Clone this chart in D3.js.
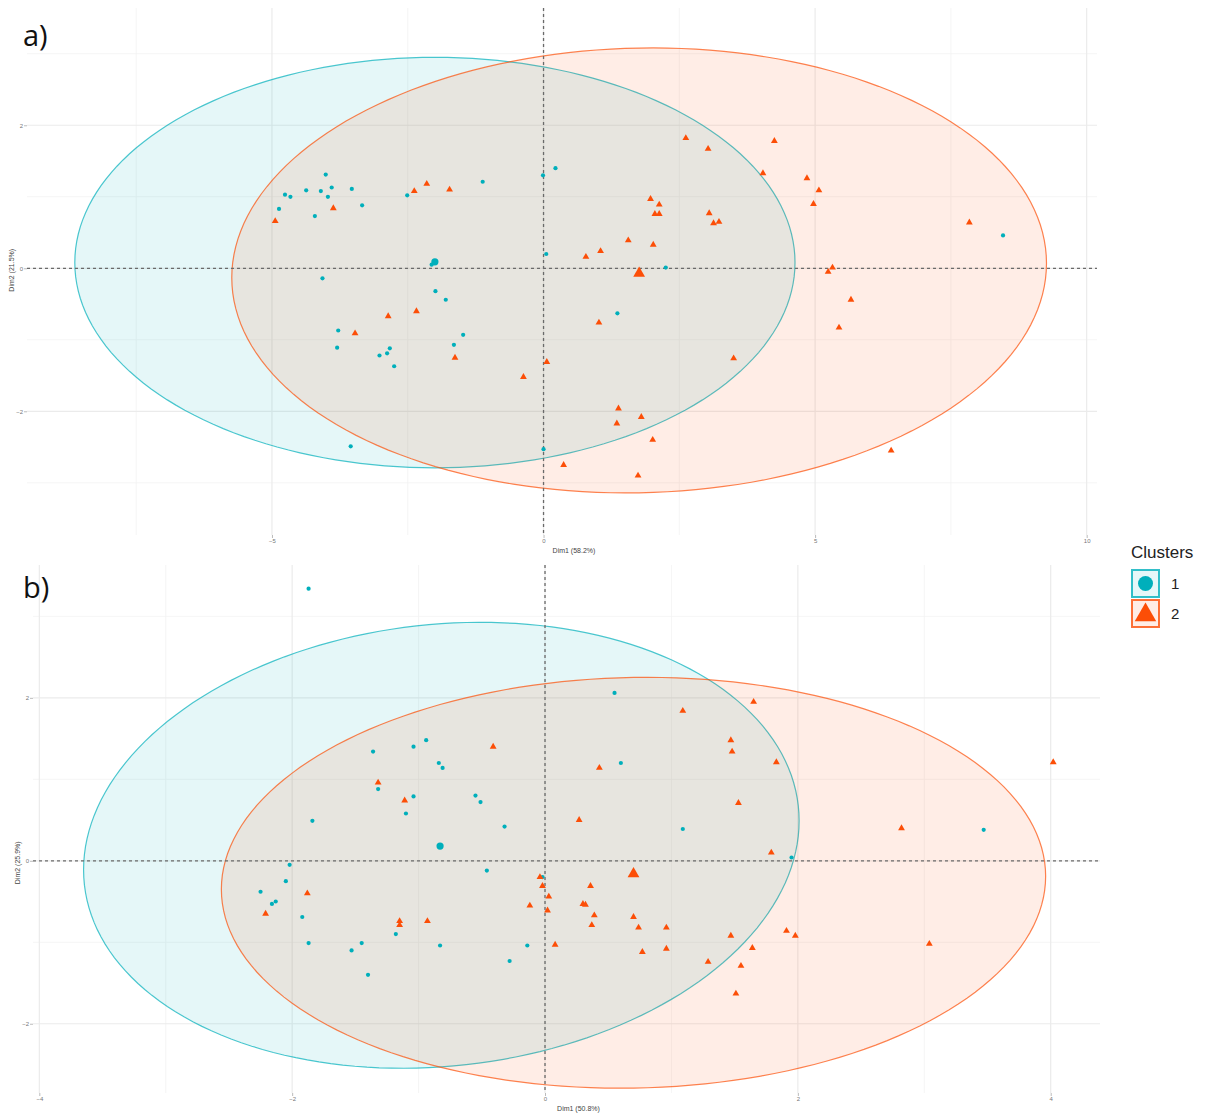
<!DOCTYPE html>
<html>
<head>
<meta charset="utf-8">
<script src="https://cdn.jsdelivr.net/npm/d3@7"></script>
<style>
body{margin:0;background:#fff}
svg{display:block}
</style>
</head>
<body>
<svg id="chart" width="1208" height="1115"></svg>
<script>
const clusterNames = ["1", "2"];
const clusterColors = ["#00AFBB", "#FC4E07"];

// ---- panel a ----
const aXTicks = [-5, 0, 5, 10];
const aYTicks = [-2, 0, 2];
const aXMinor = [-7.5, -2.5, 2.5, 7.5];
const aYMinor = [-3, -1, 1, 3];
const aXTitle = "Dim1 (58.2%)";
const aYTitle = "Dim2 (21.5%)";
const aCluster1 = [
  [-4.01,1.31],[-4.76,1.03],[-4.66,1.00],[-4.87,0.83],[-4.37,1.09],[-4.10,1.08],
  [-3.90,1.13],[-3.97,1.00],[-3.53,1.11],[-4.21,0.73],[-3.34,0.88],[-2.51,1.02],
  [-1.12,1.21],[-0.01,1.30],[0.22,1.40],[0.05,0.20],[-4.07,-0.14],[-1.99,-0.32],
  [-1.80,-0.44],[-3.78,-0.87],[-3.80,-1.11],[-1.48,-0.93],[-1.65,-1.07],[-2.83,-1.12],
  [-2.88,-1.19],[-3.02,-1.22],[-2.75,-1.37],[-2.06,0.05],[2.25,0.01],[1.36,-0.63],
  [0.00,-2.53],[-3.55,-2.49],[8.46,0.46]
];
const aCluster2 = [
  [-4.94,0.66],[-3.87,0.84],[-2.38,1.08],[-2.15,1.18],[-1.73,1.10],[-2.86,-0.67],
  [-2.34,-0.60],[-3.47,-0.91],[-1.63,-1.25],[0.06,-1.31],[-0.37,-1.52],[2.62,1.82],
  [3.03,1.67],[4.25,1.78],[4.04,1.33],[4.85,1.26],[5.07,1.09],[4.97,0.90],
  [1.97,0.97],[2.13,0.89],[2.05,0.76],[2.13,0.76],[3.05,0.77],[3.13,0.63],
  [3.23,0.65],[1.56,0.39],[2.02,0.33],[1.05,0.24],[0.78,0.16],[5.32,0.01],
  [5.24,-0.05],[5.66,-0.44],[5.44,-0.83],[1.02,-0.76],[3.50,-1.26],[1.38,-1.96],
  [1.80,-2.08],[1.35,-2.17],[2.01,-2.40],[0.37,-2.75],[1.74,-2.90],[7.84,0.64],
  [6.40,-2.55]
];
const aCentres = [[-2.00,0.09],[1.76,-0.07]];
// ellipse: [cx, cy, a, b, tilt]
const aEllipses = [[-2.00,0.08,6.63,2.87,0.0],[1.76,-0.03,7.50,3.11,0.10]];

// ---- panel b ----
const bXTicks = [-4, -2, 0, 2, 4];
const bYTicks = [-2, 0, 2];
const bXMinor = [-3, -1, 1, 3];
const bYMinor = [-1, 1, 3];
const bXTitle = "Dim1 (50.8%)";
const bYTitle = "Dim2 (25.9%)";
const bCluster1 = [
  [-1.87,3.34],[0.55,2.06],[0.60,1.20],[-1.36,1.34],[-1.04,1.40],[-0.94,1.48],
  [-0.84,1.20],[-0.81,1.14],[-1.32,0.88],[-0.55,0.80],[-0.51,0.72],[-1.04,0.79],
  [-1.10,0.58],[-1.84,0.49],[-0.32,0.42],[1.09,0.39],[3.47,0.38],[-2.02,-0.05],
  [-0.46,-0.12],[-2.05,-0.25],[-2.25,-0.38],[-2.13,-0.50],[-2.16,-0.53],[-1.92,-0.69],
  [-1.18,-0.90],[-1.87,-1.01],[-1.45,-1.01],[-0.83,-1.04],[-1.53,-1.10],[-0.14,-1.04],
  [-0.28,-1.23],[-1.40,-1.40],[-0.02,-0.20],[1.95,0.04]
];
const bCluster2 = [
  [1.65,1.95],[1.09,1.84],[1.47,1.48],[1.48,1.34],[-0.41,1.40],[0.43,1.14],
  [1.83,1.21],[4.02,1.21],[-1.32,0.96],[-1.11,0.74],[1.53,0.71],[0.27,0.50],
  [2.82,0.40],[1.79,0.10],[-0.04,-0.20],[-0.02,-0.31],[0.03,-0.44],[0.36,-0.31],
  [-2.21,-0.65],[-1.88,-0.40],[-0.12,-0.55],[0.02,-0.61],[0.30,-0.53],[0.32,-0.54],
  [0.39,-0.67],[-1.15,-0.74],[-1.15,-0.79],[-0.93,-0.74],[0.37,-0.79],[0.70,-0.69],
  [0.74,-0.82],[0.96,-0.82],[0.08,-1.03],[0.77,-1.12],[0.96,-1.08],[1.29,-1.24],
  [1.47,-0.92],[1.64,-1.07],[1.55,-1.29],[1.91,-0.86],[1.98,-0.92],[3.04,-1.02],
  [1.51,-1.63]
];
const bCentres = [[-0.83,0.18],[0.70,-0.16]];
const bEllipses = [[-0.82,0.19,2.83,2.72,0.30],[0.70,-0.27,3.26,2.52,0.08]];

const svg = d3.select("#chart");
const font = "'Liberation Sans', Arial, sans-serif";

function drawPanel(p) {
  const x = d3.scaleLinear().domain(p.xDomain).range([p.left, p.right]);
  const y = d3.scaleLinear().domain(p.yDomain).range([p.bottom, p.top]);
  const g = svg.append("g");

  // grid
  g.selectAll(".vminor").data(p.xMinor).enter().append("line")
    .attr("x1", d => x(d)).attr("x2", d => x(d))
    .attr("y1", p.top).attr("y2", p.bottom)
    .attr("stroke", "#f2f2f2").attr("stroke-width", 0.8);
  g.selectAll(".hminor").data(p.yMinor).enter().append("line")
    .attr("y1", d => y(d)).attr("y2", d => y(d))
    .attr("x1", p.left).attr("x2", p.right)
    .attr("stroke", "#f2f2f2").attr("stroke-width", 0.8);
  g.selectAll(".vmajor").data(p.xTicks).enter().append("line")
    .attr("x1", d => x(d)).attr("x2", d => x(d))
    .attr("y1", p.top).attr("y2", p.bottom)
    .attr("stroke", "#ebebeb").attr("stroke-width", 1.2);
  g.selectAll(".hmajor").data(p.yTicks).enter().append("line")
    .attr("y1", d => y(d)).attr("y2", d => y(d))
    .attr("x1", p.left).attr("x2", p.right)
    .attr("stroke", "#ebebeb").attr("stroke-width", 1.2);

  // ellipses
  const ts = d3.range(0, 2 * Math.PI + 0.001, Math.PI / 90);
  const ellLine = d3.line().x(d => x(d[0])).y(d => y(d[1])).curve(d3.curveLinearClosed);
  p.ellipses.forEach((e, i) => {
    const pts = ts.map(t => [e[0] + e[2] * Math.cos(t), e[1] + e[3] * Math.sin(t) + e[4] * Math.cos(t)]);
    g.append("path").attr("d", ellLine(pts))
      .attr("fill", clusterColors[i]).attr("fill-opacity", 0.1)
      .attr("stroke", clusterColors[i]).attr("stroke-opacity", 0.7).attr("stroke-width", 1.2);
  });

  // zero lines
  g.append("line").attr("x1", x(0)).attr("x2", x(0)).attr("y1", p.top).attr("y2", p.bottom)
    .attr("stroke", "#6a6a6a").attr("stroke-width", 1.3).attr("stroke-dasharray", "3,3");
  g.append("line").attr("y1", y(0)).attr("y2", y(0)).attr("x1", p.left).attr("x2", p.right)
    .attr("stroke", "#6a6a6a").attr("stroke-width", 1.3).attr("stroke-dasharray", "3,3");

  // points
  g.selectAll(".c1").data(p.c1).enter().append("circle")
    .attr("cx", d => x(d[0])).attr("cy", d => y(d[1])).attr("r", 2.1)
    .attr("fill", clusterColors[0]);
  const tri = d3.symbol().type(d3.symbolTriangle).size(20);
  g.selectAll(".c2").data(p.c2).enter().append("path")
    .attr("d", tri).attr("transform", d => `translate(${x(d[0])},${y(d[1])})`)
    .attr("fill", clusterColors[1]);
  g.append("circle").attr("cx", x(p.centres[0][0])).attr("cy", y(p.centres[0][1]))
    .attr("r", 3.6).attr("fill", clusterColors[0]);
  g.append("path").attr("d", d3.symbol().type(d3.symbolTriangle).size(60)())
    .attr("transform", `translate(${x(p.centres[1][0])},${y(p.centres[1][1])})`)
    .attr("fill", clusterColors[1]);

  // axes
  const fmt = d3.format("d");
  const xAxis = g.append("g").attr("transform", `translate(0,${p.bottom})`)
    .call(d3.axisBottom(x).tickValues(p.xTicks).tickFormat(fmt).tickSize(3).tickPadding(1));
  const yAxis = g.append("g").attr("transform", `translate(${p.left},0)`)
    .call(d3.axisLeft(y).tickValues(p.yTicks).tickFormat(fmt).tickSize(3).tickPadding(1));
  [xAxis, yAxis].forEach(a => {
    a.select(".domain").remove();
    a.selectAll("line").attr("stroke", "#bbb");
    a.selectAll("text").attr("fill", "#777").style("font-size", "6px").style("font-family", font);
  });

  g.append("text").attr("x", (p.left + p.right) / 2 + 12).attr("y", p.bottom + 18)
    .attr("text-anchor", "middle").style("font-size", "7px").style("font-family", font)
    .attr("fill", "#444").text(p.xTitle);
  g.append("text").attr("transform", `translate(${p.left - 13},${y(0) + 2}) rotate(-90)`)
    .attr("text-anchor", "middle").style("font-size", "7px").style("font-family", font)
    .attr("fill", "#444").text(p.yTitle);

  svg.append("text").attr("x", 23).attr("y", p.labelY)
    .style("font-size", "29px").style("font-family", "'Open Sans', sans-serif")
    .attr("fill", "#111").text(p.label);
}

drawPanel({
  label: "a)", labelY: 46,
  left: 27, right: 1097, top: 8, bottom: 535,
  xDomain: [-9.51, 10.19], yDomain: [-3.73, 3.64],
  xTicks: aXTicks, yTicks: aYTicks, xMinor: aXMinor, yMinor: aYMinor,
  xTitle: aXTitle, yTitle: aYTitle,
  c1: aCluster1, c2: aCluster2, centres: aCentres, ellipses: aEllipses
});
drawPanel({
  label: "b)", labelY: 598,
  left: 33, right: 1100, top: 565, bottom: 1093,
  xDomain: [-4.05, 4.39], yDomain: [-2.85, 3.63],
  xTicks: bXTicks, yTicks: bYTicks, xMinor: bXMinor, yMinor: bYMinor,
  xTitle: bXTitle, yTitle: bYTitle,
  c1: bCluster1, c2: bCluster2, centres: bCentres, ellipses: bEllipses
});

// legend
const leg = svg.append("g").attr("transform", "translate(1131,540)");
leg.append("text").attr("x", 0).attr("y", 18)
  .style("font-size", "17px").style("font-family", font).attr("fill", "#222").text("Clusters");
clusterNames.forEach((c, i) => {
  const row = leg.append("g").attr("transform", `translate(0,${29 + i * 30})`);
  row.append("rect").attr("x", 1).attr("y", 1).attr("width", 27).attr("height", 27)
    .attr("fill", clusterColors[i]).attr("fill-opacity", 0.1)
    .attr("stroke", clusterColors[i]).attr("stroke-opacity", 0.8).attr("stroke-width", 2);
  if (i === 0) {
    row.append("circle").attr("cx", 14.5).attr("cy", 14.5).attr("r", 7.5).attr("fill", clusterColors[i]);
  } else {
    row.append("path").attr("d", d3.symbol().type(d3.symbolTriangle).size(200)())
      .attr("transform", "translate(14.5,16)").attr("fill", clusterColors[i]);
  }
  row.append("text").attr("x", 40).attr("y", 20)
    .style("font-size", "15px").style("font-family", font).attr("fill", "#222").text(c);
});
</script>
</body>
</html>
